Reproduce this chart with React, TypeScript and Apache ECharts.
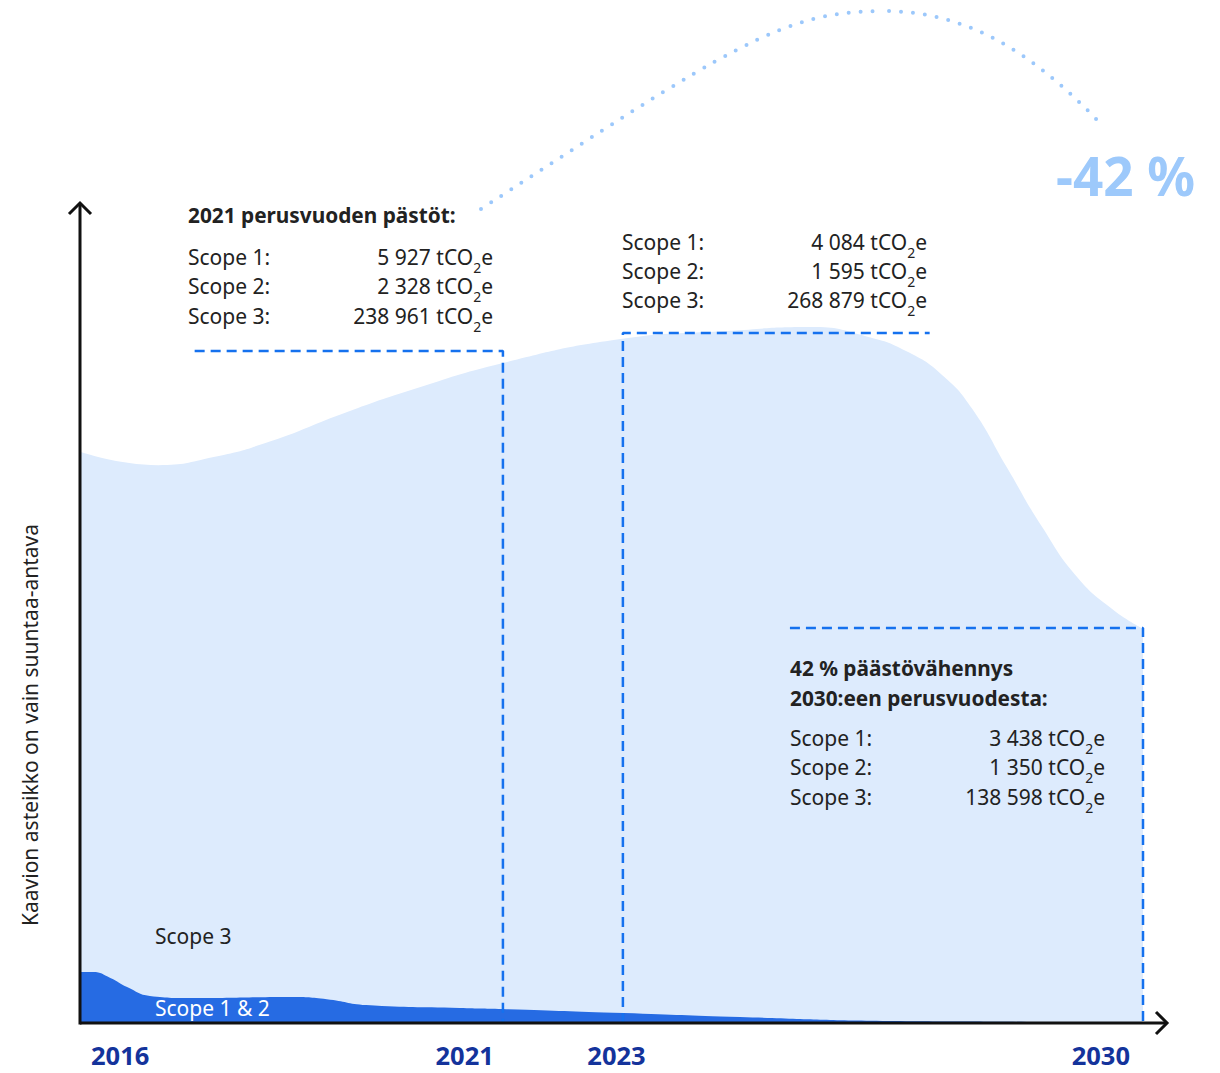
import React, { useEffect, useRef } from "react";
import * as echarts from "echarts";

// ---- Data (illustrative scale, thousand tCO2e) ----
const scope3Years = [2016, 2017.03, 2017.76, 2018.52, 2019.44, 2020.36, 2021.56, 2023.12, 2024.52, 2025.63, 2026.36, 2026.92, 2027.38, 2027.75, 2028.21, 2028.67, 2029.14, 2029.61, 2030];
const scope3Values = [213, 208, 211, 217, 227, 236, 246, 255, 258, 259.5, 256, 250, 241, 229, 207, 185, 166, 154, 147];

const scope12Years = [2016, 2016.17, 2016.4, 2016.62, 2016.92, 2017.49, 2018.78, 2019.25, 2019.77, 2021.0, 2021.56, 2023.16, 2024.69, 2026.73, 2028.47, 2030];
const scope12Values = [19, 19, 16.8, 13.4, 10.1, 9.3, 9.7, 8.9, 6.7, 5.6, 5.2, 3.7, 2.2, 0.7, 0.4, 0.2];

const tickYears = [2016, 2021, 2023, 2030];

// annotation frames (data coordinates)
const baseBoxX = [2017.51, 2021.57, 2021.57];
const baseBoxY = [250.6, 250.6, 0];
const currentBoxX = [2023.15, 2023.15, 2027.19];
const currentBoxY = [0, 257.3, 257.3];
const targetBoxX = [2025.35, 2030, 2030];
const targetBoxY = [147.3, 147.3, 0];

const scopeLabels = ["Scope 1:", "Scope 2:", "Scope 3:"];
const baseValues = ["5 927", "2 328", "238 961"];
const currentValues = ["4 084", "1 595", "268 879"];
const targetValues = ["3 438", "1 350", "138 598"];

const baseTitle = "2021 perusvuoden pästöt:";
const targetTitle = ["42 % päästövähennys", "2030:een perusvuodesta:"];
const reductionText = "-42 %";
const axisTitle = "Kaavion asteikko on vain suuntaa-antava";

// ---- Styles ----
const FONT = '"Noto Sans", "Open Sans", sans-serif';
const TEXT = "#222222";
const LIGHT = "#ddebfd";
const DARK = "#266be3";
const DASH = "#1571ee";
const YEAR = "#14339b";
const BODY = 21;
const HEAD = 20.8;

const zip = (xs: number[], ys: number[]) => xs.map((x, i) => [x, ys[i]]);

function textEl(x: number, y: number, text: string, extra: any = {}) {
  return {
    type: "text",
    x,
    y,
    z: 100,
    silent: true,
    style: {
      text,
      fontFamily: FONT,
      fontSize: BODY,
      fill: TEXT,
      align: "left",
      verticalAlign: "middle",
      ...extra,
    },
  };
}

function valueEl(x: number, y: number, v: string) {
  return {
    type: "text",
    x,
    y,
    z: 100,
    silent: true,
    style: {
      text: `${v} tCO{sub|2}e`,
      fontFamily: FONT,
      fontSize: BODY,
      fill: TEXT,
      align: "right",
      verticalAlign: "middle",
      lineHeight: 34,
      rich: {
        sub: {
          fontFamily: FONT,
          fontSize: 14,
          lineHeight: 10,
          verticalAlign: "bottom",
          fill: TEXT,
        },
      },
    },
  };
}

function rows(labelX: number, valueX: number, ys: number[], values: string[]) {
  const out: any[] = [];
  ys.forEach((y, i) => {
    out.push(textEl(labelX, y, scopeLabels[i]));
    out.push(valueEl(valueX, y, values[i]));
  });
  return out;
}

const dashSeries = (data: number[][]) => ({
  type: "line",
  data,
  symbol: "none",
  clip: false,
  silent: true,
  z: 5,
  lineStyle: { color: DASH, width: 2.5, type: [10, 6] },
});

const yearStyle = { fontFamily: FONT, fontSize: 25.5, fontWeight: "bold", color: YEAR, lineHeight: 24 };

const option: any = {
  animation: false,
  backgroundColor: "#ffffff",
  textStyle: { fontFamily: FONT },
  grid: { left: 80, right: 77, top: 205, bottom: 50 },
  xAxis: {
    type: "value",
    min: 2016,
    max: 2030,
    axisLine: { show: false },
    axisTick: { show: false },
    splitLine: { show: false },
    axisLabel: {
      customValues: tickYears,
      alignMinLabel: "left",
      alignMaxLabel: "right",
      margin: 20,
      ...yearStyle,
      formatter: (v: number) =>
        v === tickYears[0] ? `{first|${v}}` : v === tickYears[tickYears.length - 1] ? `{last|${v}}` : `{mid|${v}}`,
      rich: {
        first: { ...yearStyle, padding: [0, 0, 0, 11] },
        last: { ...yearStyle, padding: [0, 13, 0, 0] },
        mid: { ...yearStyle, padding: [0, 0, 0, 10] },
      },
    },
  },
  yAxis: {
    type: "value",
    min: 0,
    max: 305,
    axisLine: { show: false },
    axisTick: { show: false },
    axisLabel: { show: false },
    splitLine: { show: false },
  },
  series: [
    {
      name: "Scope 3",
      type: "line",
      data: zip(scope3Years, scope3Values),
      smooth: 0.5,
      symbol: "none",
      z: 1,
      lineStyle: { width: 0 },
      areaStyle: { color: LIGHT, opacity: 1 },
    },
    {
      name: "Scope 1 & 2",
      type: "line",
      data: zip(scope12Years, scope12Values),
      smooth: 0.5,
      symbol: "none",
      z: 2,
      lineStyle: { width: 0 },
      areaStyle: { color: DARK, opacity: 1 },
    },
    dashSeries(zip(baseBoxX, baseBoxY)),
    dashSeries(zip(currentBoxX, currentBoxY)),
    dashSeries(zip(targetBoxX, targetBoxY)),
  ],
  graphic: [
    // axes with open arrowheads
    { type: "line", z: 100, silent: true, shape: { x1: 80, y1: 1023, x2: 1167, y2: 1023 }, style: { stroke: "#111", lineWidth: 3 } },
    { type: "polyline", z: 100, silent: true, shape: { points: [[1156, 1012], [1167, 1023], [1156, 1034]] }, style: { stroke: "#111", lineWidth: 3, fill: "none" } },
    { type: "line", z: 100, silent: true, shape: { x1: 80, y1: 1024.5, x2: 80, y2: 203 }, style: { stroke: "#111", lineWidth: 3 } },
    { type: "polyline", z: 100, silent: true, shape: { points: [[69, 214], [80, 203], [91, 214]] }, style: { stroke: "#111", lineWidth: 3, fill: "none" } },
    // dotted arc
    {
      type: "bezierCurve",
      z: 100,
      silent: true,
      shape: { x1: 481, y1: 209, cpx1: 731, cpy1: 46.5, cpx2: 783, cpy2: 11, x2: 883, y2: 11 },
      style: { stroke: "#9cc8fb", lineWidth: 4, lineCap: "round", lineDash: [0, 12], fill: "none" },
    },
    {
      type: "bezierCurve",
      z: 100,
      silent: true,
      shape: { x1: 883, y1: 11, cpx1: 963, cpy1: 11, cpx2: 1029, cpy2: 48.5, x2: 1099, y2: 122 },
      style: { stroke: "#9cc8fb", lineWidth: 4, lineCap: "round", lineDash: [0, 12], lineDashOffset: 6, fill: "none" },
    },
    textEl(1056, 175, reductionText, { fontSize: 53, fontWeight: "bold", fill: "#9dc9fb" }),
    // y axis title
    {
      type: "text",
      x: 30,
      y: 725,
      rotation: Math.PI / 2,
      z: 100,
      silent: true,
      style: { text: axisTitle, fontFamily: FONT, fontSize: BODY, fill: TEXT, align: "center", verticalAlign: "middle" },
    },
    // base year box
    textEl(188, 215, baseTitle, { fontSize: HEAD, fontWeight: "bold" }),
    ...rows(188, 493, [257, 286, 316], baseValues),
    // current box
    ...rows(622, 927, [242, 271, 300], currentValues),
    // target box
    textEl(790, 668, targetTitle[0], { fontSize: HEAD, fontWeight: "bold" }),
    textEl(790, 698, targetTitle[1], { fontSize: HEAD, fontWeight: "bold" }),
    ...rows(790, 1105, [738, 767, 797], targetValues),
    // series labels
    textEl(155, 936, "Scope 3"),
    textEl(155, 1008, "Scope 1 & 2", { fill: "#ffffff" }),
  ],
};

export default function App() {
  const ref = useRef<HTMLDivElement>(null);
  useEffect(() => {
    const chart = echarts.init(ref.current!, null, { renderer: "svg" });
    chart.setOption(option);
    return () => chart.dispose();
  }, []);
  return (
    <div
      ref={ref}
      style={{ position: "fixed", left: 0, top: 0, width: 1220, height: 1073, background: "#ffffff" }}
    />
  );
}
